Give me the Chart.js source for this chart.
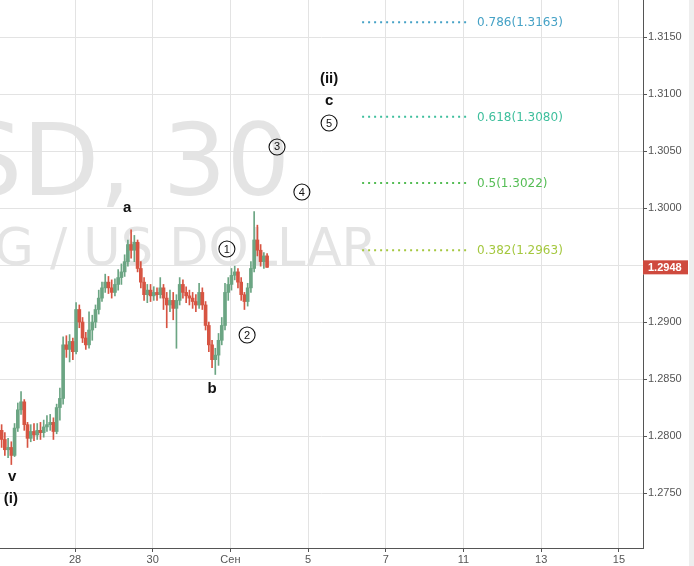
<!DOCTYPE html>
<html>
<head>
<meta charset="utf-8">
<script src="https://cdn.jsdelivr.net/npm/chart.js@4"></script>
<style>
  html, body { margin: 0; padding: 0; background: #ffffff; }
  canvas { display: block; }
</style>
</head>
<body>
<canvas id="c" width="694" height="566"></canvas>
<script>
// ---- data (2-hour candles, GBPUSD) ----
const candleStart = -1.8889;   // trading-day offset from 28 Aug
const candleStep = 1 / 12;     // 2 hours
const opens = [1.2805,1.2797,1.2788,1.2790,1.2783,1.2807,1.2823,1.2830,1.2810,1.2798,
1.2804,1.2801,1.2805,1.2803,1.2808,1.2810,1.2812,1.2804,1.2825,1.2833,
1.2880,1.2876,1.2883,1.2874,1.2911,1.2900,1.2886,1.2880,1.2893,1.2900,
1.2911,1.2921,1.2930,1.2935,1.2930,1.2926,1.2933,1.2939,1.2944,1.2953,
1.2968,1.2963,1.2970,1.2947,1.2935,1.2924,1.2928,1.2923,1.2926,1.2924,
1.2930,1.2921,1.2915,1.2919,1.2912,1.2919,1.2933,1.2926,1.2923,1.2921,
1.2918,1.2915,1.2926,1.2915,1.2897,1.2880,1.2867,1.2871,1.2884,1.2897,
1.2926,1.2933,1.2941,1.2944,1.2935,1.2924,1.2918,1.2930,1.2947,1.2972,
1.2963,1.2953,1.2958];
const highs = [1.2810,1.2803,1.2798,1.2795,1.2811,1.2829,1.2839,1.2832,1.2812,1.2810,
1.2811,1.2811,1.2812,1.2814,1.2818,1.2819,1.2816,1.2828,1.2842,1.2887,
1.2888,1.2889,1.2886,1.2917,1.2915,1.2904,1.2891,1.2909,1.2906,1.2915,
1.2928,1.2935,1.2942,1.2940,1.2937,1.2938,1.2946,1.2951,1.2959,1.2972,
1.2981,1.2976,1.2972,1.2953,1.2939,1.2933,1.2933,1.2931,1.2930,1.2939,
1.2933,1.2926,1.2928,1.2926,1.2924,1.2939,1.2937,1.2931,1.2928,1.2926,
1.2924,1.2934,1.2930,1.2918,1.2900,1.2884,1.2877,1.2890,1.2904,1.2934,
1.2939,1.2947,1.2949,1.2947,1.2939,1.2926,1.2934,1.2953,1.2997,1.2985,
1.2968,1.2961,1.2960];
const lows = [1.2790,1.2783,1.2781,1.2775,1.2782,1.2804,1.2819,1.2805,1.2790,1.2795,
1.2796,1.2797,1.2797,1.2799,1.2804,1.2805,1.2797,1.2802,1.2814,1.2828,
1.2869,1.2865,1.2867,1.2872,1.2895,1.2882,1.2876,1.2877,1.2884,1.2895,
1.2907,1.2918,1.2926,1.2925,1.2921,1.2923,1.2928,1.2933,1.2940,1.2949,
1.2956,1.2953,1.2944,1.2930,1.2919,1.2917,1.2918,1.2919,1.2919,1.2921,
1.2911,1.2895,1.2909,1.2902,1.2877,1.2915,1.2921,1.2917,1.2915,1.2912,
1.2909,1.2912,1.2911,1.2893,1.2874,1.2860,1.2854,1.2862,1.2880,1.2893,
1.2919,1.2928,1.2937,1.2930,1.2919,1.2911,1.2914,1.2926,1.2944,1.2958,
1.2949,1.2947,1.2948];
const closes = [1.2797,1.2788,1.2790,1.2783,1.2807,1.2823,1.2830,1.2810,1.2798,1.2804,
1.2801,1.2805,1.2803,1.2808,1.2810,1.2812,1.2804,1.2825,1.2833,1.2880,
1.2876,1.2883,1.2874,1.2911,1.2900,1.2886,1.2880,1.2893,1.2900,1.2911,
1.2921,1.2930,1.2935,1.2930,1.2926,1.2933,1.2939,1.2944,1.2953,1.2968,
1.2963,1.2970,1.2947,1.2935,1.2924,1.2928,1.2923,1.2926,1.2924,1.2930,
1.2921,1.2915,1.2919,1.2912,1.2919,1.2933,1.2926,1.2923,1.2921,1.2918,
1.2915,1.2926,1.2915,1.2897,1.2880,1.2867,1.2871,1.2884,1.2897,1.2926,
1.2933,1.2941,1.2944,1.2935,1.2924,1.2918,1.2930,1.2947,1.2972,1.2963,
1.2953,1.2958,1.2948];

const xTickValues = [0, 2, 4, 6, 8, 10, 12, 14];
const xTickLabels = ['28', '30', 'Сен', '5', '7', '11', '13', '15'];
const yTickValues = [1.2750, 1.2800, 1.2850, 1.2900, 1.2950, 1.3000, 1.3050, 1.3100, 1.3150];
const yTickShown = [1.2750, 1.2800, 1.2850, 1.2900, 1.3000, 1.3050, 1.3100, 1.3150];

const fibRatios = [0.786, 0.618, 0.5, 0.382];
const fibPrices = [1.3163, 1.3080, 1.3022, 1.2963];
const fibColors = ['#46a2c6', '#3fbf9d', '#55bd55', '#a5c840'];
const fibFrom = 7.39, fibTo = 10.17, fibLabelX = 10.35;

const waveText = ['v', '(i)', 'a', 'b', 'c', '(ii)'];
const waveX = [-1.62, -1.65, 1.34, 3.53, 6.54, 6.54];
const waveY = [1.27641, 1.27448, 1.30000, 1.28413, 1.30939, 1.31132];
const circText = ['1', '2', '3', '4', '5'];
const circX = [3.91, 4.43, 5.20, 5.84, 6.54];
const circY = [1.29641, 1.28886, 1.30536, 1.30141, 1.30746];

const lastPrice = 1.2948;
const symbolText = 'GBPUSD, 30';
const descText = 'POUND STERLING / US DOLLAR';

// ---- build ----
const UP = '#6ba583', DOWN = '#d75442';
const times = opens.map((_, i) => candleStart + i * candleStep);
const colors = opens.map((o, i) => closes[i] >= o ? UP : DOWN);

const wickData = times.map((t, i) => ({ x: t, y: [lows[i], highs[i]] }));
const bodyData = times.map((t, i) => ({ x: t, y: [opens[i], closes[i]] }));

const fibDatasets = fibPrices.map((p, k) => ({
  type: 'line',
  data: [{ x: fibFrom, y: p }, { x: fibTo, y: p }],
  borderColor: fibColors[k],
  borderWidth: 2,
  borderDash: [2, 4],
  pointRadius: 0,
  fill: false,
  order: 0
}));

const AXIS = '#555555';
const GRID = '#e3e3e3';
const FONT = 'Liberation Sans, Arial, sans-serif';

const overlay = {
  id: 'overlay',
  beforeDraw(chart) {
    const ctx = chart.ctx;
    ctx.save();
    ctx.fillStyle = '#ffffff';
    ctx.fillRect(0, 0, chart.width, chart.height);
    ctx.fillStyle = '#e4e4e4';
    ctx.textAlign = 'right';
    ctx.textBaseline = 'alphabetic';
    ctx.font = '100px "DejaVu Sans"';
    ctx.fillText(symbolText, 290, 195);
    ctx.font = '51px "DejaVu Sans"';
    ctx.fillText(descText, 377, 265);
    ctx.restore();
  },
  afterDatasetsDraw(chart) {
    const ctx = chart.ctx;
    const xs = chart.scales.x, ys = chart.scales.y;
    ctx.save();
    // fib labels
    ctx.font = '12px "DejaVu Sans"';
    ctx.textAlign = 'left';
    ctx.textBaseline = 'middle';
    fibPrices.forEach((p, k) => {
      ctx.fillStyle = fibColors[k];
      ctx.fillText(fibRatios[k] + '(' + p.toFixed(4) + ')', xs.getPixelForValue(fibLabelX), ys.getPixelForValue(p) + 1);
    });
    // wave labels
    ctx.fillStyle = '#111111';
    ctx.font = 'bold 15px "Liberation Sans"';
    ctx.textAlign = 'center';
    waveText.forEach((t, k) => {
      ctx.fillText(t, xs.getPixelForValue(waveX[k]), ys.getPixelForValue(waveY[k]));
    });
    // circled numbers
    ctx.font = '11px "Liberation Sans"';
    ctx.lineWidth = 1.1;
    ctx.strokeStyle = '#111111';
    circText.forEach((t, k) => {
      const cx = xs.getPixelForValue(circX[k]), cy = ys.getPixelForValue(circY[k]);
      ctx.beginPath();
      ctx.arc(cx, cy, 8, 0, Math.PI * 2);
      ctx.stroke();
      ctx.fillText(t, cx, cy + 0.5);
    });
    ctx.restore();
  },
  afterDraw(chart) {
    const ctx = chart.ctx;
    const ys = chart.scales.y;
    const ca = chart.chartArea;
    ctx.save();
    ctx.fillStyle = '#eeeeee';
    ctx.fillRect(689, 0, 5, chart.height);
    const py = ys.getPixelForValue(lastPrice);
    ctx.fillStyle = '#cf4a3e';
    ctx.fillRect(ca.right, py - 7, 45, 14);
    ctx.fillStyle = '#ffffff';
    ctx.font = 'bold 11px "Liberation Sans"';
    ctx.textAlign = 'left';
    ctx.textBaseline = 'middle';
    ctx.fillText(lastPrice.toFixed(4), ca.right + 5, py + 0.5);
    ctx.restore();
  }
};

new Chart(document.getElementById('c'), {
  type: 'bar',
  data: {
    datasets: [
      {
        data: wickData,
        backgroundColor: colors,
        barThickness: 1,
        grouped: false,
        borderWidth: 0,
        order: 2
      },
      {
        data: bodyData,
        backgroundColor: colors,
        barThickness: 3,
        grouped: false,
        minBarLength: 1,
        borderWidth: 0,
        order: 1
      },
      ...fibDatasets
    ]
  },
  options: {
    responsive: false,
    animation: false,
    layout: { padding: 0 },
    plugins: { legend: { display: false }, tooltip: { enabled: false } },
    scales: {
      x: {
        type: 'linear',
        position: 'bottom',
        offset: false,
        min: -1.9305,
        max: 14.62,
        afterBuildTicks(scale) { scale.ticks = xTickValues.map(v => ({ value: v })); },
        afterFit(scale) { scale.height = 18; scale.paddingLeft = 0; scale.paddingRight = 0; },
        grid: { color: GRID, offset: false, tickLength: 4, tickColor: AXIS },
        border: { color: AXIS, width: 1 },
        ticks: {
          padding: 1,
          color: '#555555',
          font: { family: FONT, size: 11 },
          maxRotation: 0,
          callback(v) { const i = xTickValues.indexOf(v); return i >= 0 ? xTickLabels[i] : ''; }
        }
      },
      y: {
        type: 'linear',
        position: 'right',
        beginAtZero: false,
        min: 1.27018,
        max: 1.31825,
        afterBuildTicks(scale) { scale.ticks = yTickValues.map(v => ({ value: v })); },
        afterFit(scale) { scale.width = 51; scale.paddingTop = 0; scale.paddingBottom = 0; },
        grid: { color: GRID, tickLength: 4, tickColor: AXIS },
        border: { color: AXIS, width: 1 },
        ticks: {
          padding: 1,
          color: '#555555',
          font: { family: FONT, size: 11 },
          callback(v) { return yTickShown.some(t => Math.abs(t - v) < 1e-9) ? v.toFixed(4) : ''; }
        }
      }
    }
  },
  plugins: [overlay]
});
</script>
</body>
</html>
